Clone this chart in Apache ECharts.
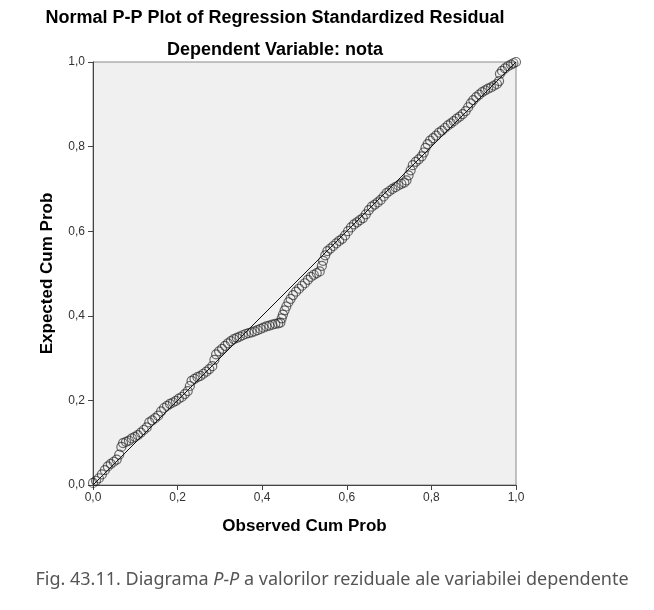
<!DOCTYPE html>
<html>
<head>
<meta charset="utf-8">
<script src="https://cdn.jsdelivr.net/npm/echarts@6/dist/echarts.min.js"></script>
<style>
  html, body { margin: 0; padding: 0; background: #fff; }
  #chart { width: 654px; height: 610px; }
</style>
</head>
<body>
<div id="chart"></div>
<script>
// observed cumulative probability (x) and expected cumulative probability (y)
var observed = [
  0.000, 0.007, 0.014, 0.021, 0.028, 0.035, 0.042, 0.049, 0.056, 0.062,
  0.067, 0.071, 0.078, 0.085, 0.092, 0.099, 0.106, 0.113, 0.120, 0.127,
  0.133, 0.140, 0.147, 0.154, 0.161, 0.168, 0.175, 0.182, 0.189, 0.196,
  0.203, 0.210, 0.217, 0.224, 0.229, 0.233, 0.240, 0.247, 0.254, 0.261,
  0.268, 0.275, 0.282, 0.287, 0.291, 0.298, 0.305, 0.312, 0.319, 0.326,
  0.333, 0.340, 0.347, 0.354, 0.361, 0.368, 0.375, 0.382, 0.389, 0.396,
  0.403, 0.410, 0.417, 0.424, 0.431, 0.438, 0.443, 0.446, 0.449, 0.453,
  0.457, 0.462, 0.467, 0.473, 0.480, 0.487, 0.494, 0.501, 0.508, 0.515,
  0.522, 0.529, 0.536, 0.541, 0.544, 0.549, 0.554, 0.561, 0.568, 0.575,
  0.582, 0.589, 0.596, 0.603, 0.610, 0.617, 0.624, 0.631, 0.638, 0.645,
  0.652, 0.659, 0.666, 0.673, 0.680, 0.687, 0.694, 0.701, 0.708, 0.715,
  0.722, 0.729, 0.736, 0.741, 0.746, 0.751, 0.756, 0.763, 0.770, 0.777,
  0.782, 0.786, 0.791, 0.797, 0.804, 0.811, 0.818, 0.825, 0.832, 0.839,
  0.846, 0.853, 0.860, 0.867, 0.874, 0.881, 0.887, 0.893, 0.899, 0.906,
  0.913, 0.920, 0.927, 0.934, 0.941, 0.948, 0.955, 0.960, 0.962, 0.967,
  0.974, 0.981, 0.988, 0.994, 1.000
];
var expected = [
  0.005, 0.010, 0.016, 0.025, 0.035, 0.044, 0.050, 0.055, 0.060, 0.072,
  0.090, 0.099, 0.102, 0.105, 0.110, 0.114, 0.118, 0.124, 0.130, 0.136,
  0.148, 0.153, 0.158, 0.164, 0.174, 0.182, 0.187, 0.192, 0.195, 0.199,
  0.204, 0.208, 0.215, 0.222, 0.234, 0.246, 0.251, 0.255, 0.258, 0.263,
  0.268, 0.274, 0.281, 0.296, 0.309, 0.316, 0.322, 0.329, 0.335, 0.340,
  0.345, 0.348, 0.351, 0.354, 0.357, 0.359, 0.361, 0.363, 0.366, 0.369,
  0.372, 0.375, 0.377, 0.379, 0.381, 0.382, 0.384, 0.394, 0.403, 0.413,
  0.422, 0.432, 0.440, 0.449, 0.457, 0.464, 0.471, 0.477, 0.485, 0.492,
  0.497, 0.501, 0.505, 0.518, 0.530, 0.543, 0.553, 0.559, 0.565, 0.571,
  0.577, 0.582, 0.590, 0.600, 0.609, 0.616, 0.621, 0.626, 0.631, 0.640,
  0.650, 0.658, 0.663, 0.668, 0.674, 0.682, 0.690, 0.695, 0.700, 0.704,
  0.708, 0.712, 0.715, 0.720, 0.732, 0.744, 0.756, 0.764, 0.770, 0.777,
  0.786, 0.797, 0.806, 0.814, 0.820, 0.826, 0.833, 0.838, 0.844, 0.850,
  0.855, 0.860, 0.866, 0.871, 0.877, 0.884, 0.893, 0.902, 0.910, 0.917,
  0.923, 0.929, 0.933, 0.937, 0.940, 0.944, 0.948, 0.955, 0.972, 0.979,
  0.985, 0.990, 0.994, 0.997, 1.000
];
// reference diagonal
var refLine = [[0, 0], [1, 1]];

var points = observed.map(function (x, i) { return [x, expected[i]]; });

function fmt(v) {
  return v.toFixed(1).replace('.', ',');
}

var chart = echarts.init(document.getElementById('chart'), null, { renderer: 'canvas' });

var axisCommon = {
  type: 'value',
  min: 0,
  max: 1,
  interval: 0.2,
  nameLocation: 'middle',
  nameTextStyle: { fontFamily: 'Liberation Sans', fontWeight: 'bold', fontSize: 17, color: '#000' },
  axisLine: { show: true, onZero: false, lineStyle: { color: '#444', width: 1 } },
  axisTick: { show: true, length: 5, lineStyle: { color: '#444' } },
  splitLine: { show: false }
};

chart.setOption({
  animation: false,
  backgroundColor: '#fff',
  title: [
    {
      text: 'Normal P-P Plot of Regression Standardized Residual',
      left: 270, top: 4, textAlign: 'center',
      textStyle: { fontFamily: 'Liberation Sans', fontWeight: 'bold', fontSize: 18, color: '#000' }
    },
    {
      text: 'Dependent Variable: nota',
      left: 270, top: 36, textAlign: 'center',
      textStyle: { fontFamily: 'Liberation Sans', fontWeight: 'bold', fontSize: 18, color: '#000' }
    },
    {
      text: 'Fig. 43.11. Diagrama {i|P-P} a valorilor reziduale ale variabilei dependente',
      left: 327, top: 566, textAlign: 'center',
      textStyle: {
        fontFamily: 'Noto Sans', fontWeight: 'normal', fontSize: 18, color: '#555',
        rich: { i: { fontFamily: 'Noto Sans', fontStyle: 'italic', fontSize: 18, color: '#555' } }
      }
    }
  ],
  grid: {
    left: 93, top: 62, width: 423, height: 423,
    show: true,
    backgroundColor: '#f0f0f0',
    borderColor: '#8a8a8a',
    borderWidth: 1
  },
  xAxis: Object.assign({}, axisCommon, {
    name: 'Observed Cum Prob',
    nameGap: 33,
    axisLabel: { fontFamily: 'Liberation Sans', fontSize: 12, color: '#333', formatter: fmt, margin: 7 }
  }),
  yAxis: Object.assign({}, axisCommon, {
    name: 'Expected Cum Prob',
    nameGap: 37,
    axisLabel: { fontFamily: 'Liberation Sans', fontSize: 12, color: '#333', formatter: fmt, margin: 8 }
  }),
  series: [
    {
      type: 'line',
      data: refLine,
      symbol: 'none',
      silent: true,
      lineStyle: { color: '#111', width: 1 },
      z: 2
    },
    {
      type: 'scatter',
      data: points,
      symbol: 'circle',
      symbolSize: 9,
      itemStyle: { color: 'transparent', borderColor: 'rgba(30,30,30,0.8)', borderWidth: 1.2 },
      z: 3
    }
  ]
});
</script>
</body>
</html>
